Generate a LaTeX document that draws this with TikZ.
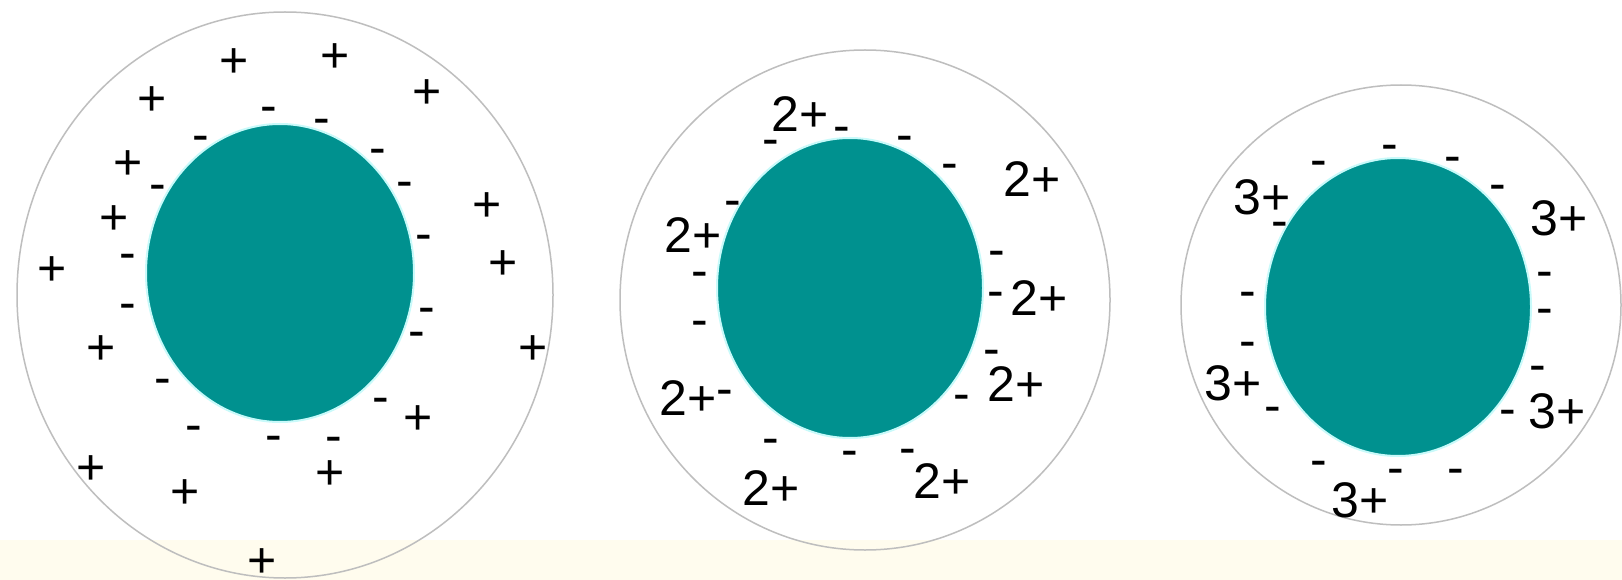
\documentclass[tikz,border=0pt]{standalone}
\usepackage{fontspec}
\setmainfont{Liberation Sans}
\definecolor{cellteal}{RGB}{0,145,143}
\definecolor{halo}{RGB}{200,250,250}
\definecolor{ring}{RGB}{190,190,190}
\definecolor{cream}{RGB}{255,252,238}
\begin{document}
\begin{tikzpicture}[x=1pt, y=-1pt,
    ion/.style={font=\fontsize{50}{50}\selectfont, inner sep=0pt, text height=35.8pt, text depth=0pt},
    neg/.style={font=\fontsize{50}{50}\selectfont, inner sep=0pt, text height=24.5pt, text depth=0pt},
    shell/.style={draw=ring, line width=1.5pt},
    core/.style={fill=cellteal, draw=halo, line width=2pt}]
  % khung và dải nền dưới
  \useasboundingbox[fill=white] (0,0) rectangle (1622,580);
  \fill[cream] (0,540) rectangle (1622,580);
  % tâm các hạt
  \coordinate (c1) at (280,273);
  \coordinate (c2) at (850,288);
  \coordinate (c3) at (1398,307);
  % vỏ ngoài
  \draw[shell] (285,295) ellipse [x radius=268, y radius=283];
  \draw[shell] (865,300) ellipse [x radius=245, y radius=250];
  \draw[shell] (1401,305) ellipse [x radius=220, y radius=220];
  % lõi
  \draw[core] (c1) ellipse [x radius=134, y radius=149];
  \draw[core] (c2) ellipse [x radius=133, y radius=150];
  \draw[core] (c3) ellipse [x radius=133, y radius=149];
  % hạt thứ nhất: ion +
  \foreach \px/\py [count=\k] in {234/60, 335/55, 427/91, 152/98, 128/162, 114/217,
      487/204, 52/268, 503/262, 101/347, 533/347, 418/417, 91/467, 185/491, 330/472, 262/560}
    \node[ion] (pa\k) at (\px,\py) {+};
  \foreach \px/\py [count=\k] in {269/110, 322/122, 201/139, 378/152, 158/188, 405/185,
      424/238, 128/257, 128/307, 427/311, 417/335, 163/382, 381/401, 194/429, 274/439, 334/440}
    \node[neg] (ma\k) at (\px,\py) {-};
  % hạt thứ hai: ion 2+
  \foreach \px/\py [count=\k] in {800/114, 1032/179, 693/235, 1039/298, 1016/384, 688/398, 771/488, 942/481}
    \node[ion] (pb\k) at (\px,\py) {2+};
  \foreach \px/\py [count=\k] in {842/130, 771/143, 905/139, 950/167, 733/204, 997/254, 700/275, 700/324,
      996/295, 992/353, 962/398, 725/393, 771/442, 850/454, 908/452}
    \node[neg] (mb\k) at (\px,\py) {-};
  % hạt thứ ba: ion 3+
  \foreach \px/\py [count=\k] in {1262/197, 1559/218, 1233/383, 1557/411, 1360/500}
    \node[ion] (pc\k) at (\px,\py) {3+};
  \foreach \px/\py [count=\k] in {1390/148, 1319/164, 1453/160, 1498/188, 1280/225, 1545/275, 1248/295,
      1545/312, 1248/345, 1538/369, 1273/410, 1508/413, 1319/464, 1396/472, 1456/472}
    \node[neg] (mc\k) at (\px,\py) {-};
\end{tikzpicture}
\end{document}
